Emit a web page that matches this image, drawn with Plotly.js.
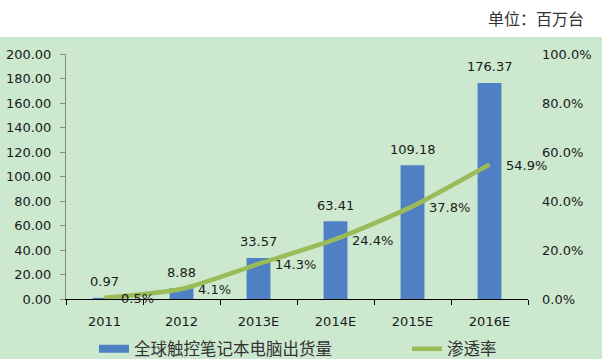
<!DOCTYPE html>
<html>
<head>
<meta charset="utf-8">
<script src="https://cdn.plot.ly/plotly-3.0.1.min.js"></script>
<style>html,body{margin:0;padding:0;background:#fff;}#chart{width:602px;height:359px;}</style>
</head>
<body>
<div id="chart"></div>
<script>
const categories = ["2011", "2012", "2013E", "2014E", "2015E", "2016E"];
const shipments = [0.97, 8.88, 33.57, 63.41, 109.18, 176.37];
const penetration = [0.005, 0.041, 0.143, 0.244, 0.378, 0.549];
const barName = "全球触控笔记本电脑出货量";
const lineName = "渗透率";
const unitText = "单位：百万台";

const numFont = {family: "DejaVu Sans", size: 13, color: "#1a1a1a"};
const cjkFont = "Noto Sans CJK SC";
const bg = "#cce8cf";
const barColor = "#5080c4";
const lineColor = "#9bbb59";

const traces = [
  {
    type: "bar", x: categories, y: shipments, name: barName,
    marker: {color: barColor, line: {width: 0}},
    hoverinfo: "skip", showlegend: false
  },
  {
    // legend key for the bar series (wide swatch, as in the reference)
    type: "scatter", mode: "lines", x: [null], y: [null], name: barName,
    line: {color: barColor, width: 8}, legend: "legend", showlegend: true, hoverinfo: "skip"
  },
  {
    type: "scatter", mode: "lines", x: categories, y: penetration, name: lineName,
    yaxis: "y2", legend: "legend2",
    line: {color: lineColor, width: 4.5, shape: "spline", smoothing: 0.6},
    hoverinfo: "skip", cliponaxis: false
  }
];

const annotations = [];
categories.forEach((c, i) => {
  annotations.push({
    x: i, y: shipments[i], xref: "x", yref: "y",
    text: shipments[i].toFixed(2), showarrow: false,
    xanchor: "center", yanchor: "middle", yshift: 16, font: numFont
  });
  annotations.push({
    x: i, y: penetration[i], xref: "x", yref: "y2",
    text: (penetration[i] * 100).toFixed(1) + "%", showarrow: false,
    xanchor: "left", yanchor: "middle", xshift: 14, yshift: -1, font: numFont
  });
});
annotations.push({
  xref: "paper", yref: "paper", x: (586 - 66) / 462, y: 1 + (54 - 18) / 245, xanchor: "right", yanchor: "middle",
  text: unitText, showarrow: false, font: {family: cjkFont, size: 16, color: "#333"}
});

const legendFont = {family: cjkFont, size: 16.5, color: "#333"};
const layout = {
  width: 602, height: 359,
  margin: {l: 66, r: 74, t: 54, b: 60, autoexpand: false},
  paper_bgcolor: bg, plot_bgcolor: bg,
  showlegend: true,
  bargap: 0.69,
  font: numFont,
  xaxis: {
    type: "category", categoryorder: "array", categoryarray: categories,
    range: [-0.5, categories.length - 0.5], autorange: false,
    showline: true, linecolor: "#000", linewidth: 1,
    ticks: "outside", ticklen: 5, tickcolor: "#000", tickson: "boundaries",
    showgrid: false, zeroline: false, tickfont: numFont, tickangle: 0, ticklabelstandoff: 10
  },
  yaxis: {
    range: [0, 200], autorange: false, dtick: 20, tickformat: ".2f",
    showline: true, linecolor: "#888", linewidth: 1,
    ticks: "outside", ticklen: 5, tickcolor: "#888",
    showgrid: false, zeroline: false, tickfont: numFont, ticklabelstandoff: 6
  },
  yaxis2: {
    overlaying: "y", side: "right", range: [0, 1], autorange: false, dtick: 0.2, tickformat: ".1%",
    showline: false, ticks: "", showgrid: false, zeroline: false,
    tickfont: numFont, ticklabelstandoff: 13
  },
  legend: {
    xref: "container", yref: "container", x: 94 / 602, xanchor: "left", y: 1 - 349 / 359, yanchor: "middle",
    font: legendFont, bgcolor: "rgba(0,0,0,0)", itemwidth: 30
  },
  legend2: {
    xref: "container", yref: "container", x: 407 / 602, xanchor: "left", y: 1 - 349 / 359, yanchor: "middle",
    font: legendFont, bgcolor: "rgba(0,0,0,0)", itemwidth: 30
  },
  shapes: [{
    type: "rect", xref: "paper", yref: "paper", x0: -0.2, x1: 1.3, y0: 1.069, y1: 1.4,
    fillcolor: "#ffffff", line: {width: 0}, layer: "below"
  }],
  annotations: annotations
};

Plotly.newPlot("chart", traces, layout, {displayModeBar: false, staticPlot: true});
</script>
</body>
</html>
